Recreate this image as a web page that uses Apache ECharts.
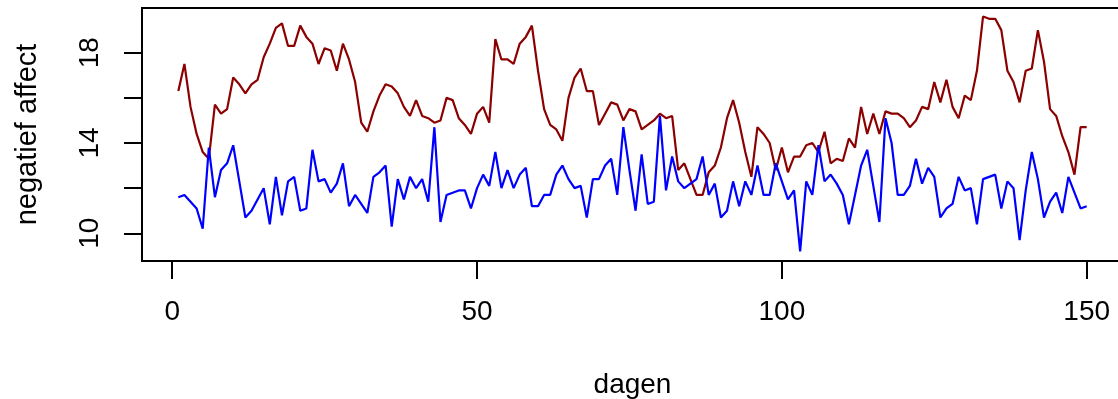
<!DOCTYPE html>
<html>
<head>
<meta charset="UTF-8">
<title>negatief affect</title>
<style>
  html, body { margin: 0; padding: 0; background: #fff; }
  #chart { width: 1118px; height: 399px; }
</style>
</head>
<body>
<div id="chart"></div>
<script src="https://cdn.jsdelivr.net/npm/echarts@6/dist/echarts.min.js"></script>
<script>
// rode lijn (donkerrood)
var redValues = [
  16.3, 17.5, 15.6, 14.4, 13.6, 13.3, 15.7, 15.3, 15.5, 16.9,
  16.6, 16.2, 16.6, 16.8, 17.8, 18.4, 19.1, 19.3, 18.3, 18.3,
  19.2, 18.7, 18.4, 17.5, 18.2, 18.1, 17.2, 18.4, 17.7, 16.7,
  14.9, 14.5, 15.4, 16.1, 16.6, 16.5, 16.2, 15.6, 15.2, 15.9,
  15.2, 15.1, 14.9, 15.0, 16.0, 15.9, 15.1, 14.8, 14.4, 15.3,
  15.6, 14.9, 18.6, 17.7, 17.7, 17.5, 18.4, 18.7, 19.2, 17.2,
  15.5, 14.8, 14.6, 14.1, 16.0, 16.9, 17.3, 16.3, 16.3, 14.8,
  15.3, 15.8, 15.7, 15.0, 15.5, 15.4, 14.6, 14.8, 15.0, 15.3,
  15.1, 15.2, 12.8, 13.1, 12.4, 11.7, 11.7, 12.7, 13.0, 13.8,
  15.1, 15.9, 14.9, 13.6, 12.5, 14.7, 14.4, 14.0, 12.8, 13.8,
  12.7, 13.4, 13.4, 13.9, 14.0, 13.6, 14.5, 13.1, 13.3, 13.2,
  14.2, 13.8, 15.6, 14.4, 15.3, 14.4, 15.4, 15.3, 15.3, 15.1,
  14.7, 15.0, 15.6, 15.5, 16.7, 15.8, 16.8, 15.6, 15.1, 16.1,
  15.9, 17.2, 19.6, 19.5, 19.5, 19.0, 17.2, 16.7, 15.8, 17.2,
  17.3, 19.0, 17.6, 15.5, 15.2, 14.3, 13.6, 12.6, 14.7, 14.7
];
// blauwe lijn
var blueValues = [
  11.6, 11.7, 11.4, 11.1, 10.2, 13.8, 11.6, 12.8, 13.1, 13.9,
  12.3, 10.7, 11.0, 11.5, 12.0, 10.4, 12.5, 10.8, 12.3, 12.5,
  11.0, 11.1, 13.7, 12.3, 12.4, 11.8, 12.2, 13.1, 11.2, 11.7,
  11.3, 10.9, 12.5, 12.7, 13.0, 10.3, 12.4, 11.5, 12.5, 12.0,
  12.4, 11.4, 14.7, 10.5, 11.7, 11.8, 11.9, 11.9, 11.1, 12.0,
  12.6, 12.1, 13.6, 12.0, 12.8, 12.0, 12.6, 12.9, 11.2, 11.2,
  11.7, 11.7, 12.6, 13.0, 12.4, 12.0, 12.1, 10.7, 12.4, 12.4,
  13.0, 13.3, 11.7, 14.7, 12.8, 11.0, 13.5, 11.3, 11.4, 15.2,
  11.9, 13.4, 12.3, 12.0, 12.2, 12.4, 13.4, 11.7, 12.2, 10.7,
  11.0, 12.3, 11.2, 12.3, 11.7, 13.0, 11.7, 11.7, 13.1, 12.3,
  11.5, 11.9, 9.2, 12.3, 11.7, 13.9, 12.3, 12.6, 12.2, 11.7,
  10.4, 11.7, 13.0, 13.7, 12.1, 10.5, 15.1, 14.0, 11.7, 11.7,
  12.1, 13.3, 12.2, 12.9, 12.5, 10.7, 11.1, 11.3, 12.5, 11.9,
  12.0, 10.4, 12.4, 12.5, 12.6, 11.1, 12.3, 12.0, 9.7, 11.9,
  13.6, 12.4, 10.7, 11.4, 11.8, 10.9, 12.5, 11.8, 11.1, 11.2
];
// as-labels
var xTicks = [0, 50, 100, 150];
var yTicks = [10, 12, 14, 16, 18];
var yLabels = [10, 14, 18];

// dagnummers 1..150
var days = [];
for (var i = 0; i < redValues.length; i++) {
  days.push(i + 1);
}
function pairs(vals) {
  return vals.map(function (v, i) { return [days[i], v]; });
}

var FONT = 'Liberation Sans, Arial, sans-serif';
var chart = echarts.init(document.getElementById('chart'), null, { renderer: 'canvas' });
var option = {
  animation: false,
  backgroundColor: '#fff',
  grid: {
    show: true,
    left: 142,
    top: 8,
    width: 981,
    height: 253,
    outerBoundsMode: 'none',
    containLabel: false,
    borderColor: '#000',
    borderWidth: 2,
    backgroundColor: 'transparent'
  },
  xAxis: {
    type: 'value',
    min: -4.96,
    max: 155.96,
    name: 'dagen',
    nameLocation: 'middle',
    nameGap: 110,
    nameTextStyle: { fontFamily: FONT, fontSize: 28, color: '#000' },
    axisLine: { show: false, onZero: false },
    axisTick: { show: true, inside: false, length: 18, customValues: xTicks,
                lineStyle: { color: '#000', width: 2 } },
    axisLabel: { customValues: xTicks, margin: 37, fontFamily: FONT, fontSize: 28, color: '#000' },
    splitLine: { show: false }
  },
  yAxis: {
    type: 'value',
    min: 8.773,
    max: 19.98,
    name: 'negatief affect',
    nameLocation: 'middle',
    nameGap: 100,
    nameTextStyle: { fontFamily: FONT, fontSize: 29, color: '#000' },
    axisLine: { show: false, onZero: false },
    axisTick: { show: true, inside: false, length: 18, customValues: yTicks,
                lineStyle: { color: '#000', width: 2 } },
    axisLabel: { customValues: yLabels, rotate: 90, margin: 38, fontFamily: FONT, fontSize: 28, color: '#000' },
    splitLine: { show: false }
  },
  series: [
    {
      name: 'rood',
      type: 'line',
      data: pairs(redValues),
      symbol: 'none',
      lineStyle: { color: '#8B0000', width: 2.2 }
    },
    {
      name: 'blauw',
      type: 'line',
      data: pairs(blueValues),
      symbol: 'none',
      lineStyle: { color: '#0000FF', width: 2.2 }
    }
  ]
};
chart.setOption(option);
</script>
</body>
</html>
